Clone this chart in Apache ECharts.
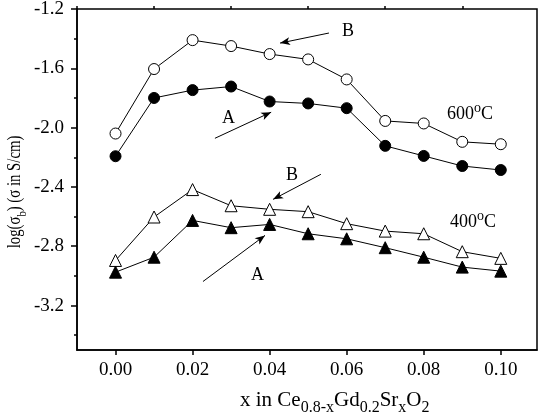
<!DOCTYPE html>
<html>
<head>
<meta charset="utf-8">
<script src="https://cdn.jsdelivr.net/npm/echarts@6/dist/echarts.min.js"></script>
<style>
html,body{margin:0;padding:0;background:#fff;}
#main{width:540px;height:414px;}
</style>
</head>
<body>
<div id="main"></div>
<script>
var xValues = [0, 0.01, 0.02, 0.03, 0.04, 0.05, 0.06, 0.07, 0.08, 0.09, 0.10];
// 600 C
var b600 = [-2.04, -1.605, -1.41, -1.45, -1.504, -1.54, -1.675, -1.955, -1.972, -2.096, -2.112];
var a600 = [-2.193, -1.80, -1.747, -1.723, -1.824, -1.837, -1.869, -2.123, -2.191, -2.259, -2.286];
// 400 C
var b400 = [-2.896, -2.603, -2.418, -2.527, -2.551, -2.567, -2.648, -2.698, -2.716, -2.837, -2.882];
var a400 = [-2.975, -2.874, -2.626, -2.675, -2.653, -2.716, -2.75, -2.81, -2.874, -2.941, -2.968];

var xLabels = [0, 0.02, 0.04, 0.06, 0.08, 0.10];
var xMinor = [-0.01, 0.01, 0.03, 0.05, 0.07, 0.09];
var yLabels = [-1.2, -1.6, -2.0, -2.4, -2.8, -3.2];
var yMinor = [-1.4, -1.8, -2.2, -2.6, -3.0, -3.4];

// arrows [from, to] in data units
var arrows = [
    [[0.0554, -1.362], [0.0427, -1.430]],
    [[0.0258, -2.072], [0.0404, -1.896]],
    [[0.0533, -2.315], [0.0409, -2.484]],
    [[0.0227, -3.038], [0.0388, -2.727]]
];

var font = 'Liberation Serif, Times New Roman, serif';

function pairs(ys) {
    var out = [];
    for (var i = 0; i < xValues.length; i++) {
        out.push([xValues[i], ys[i]]);
    }
    return out;
}

function mkSeries(name, ys, symbol, size, filled) {
    return {
        name: name,
        type: 'line',
        data: pairs(ys),
        symbol: symbol,
        symbolSize: size,
        showAllSymbol: true,
        lineStyle: {color: '#000', width: 1},
        itemStyle: {
            color: filled ? '#000' : '#fff',
            borderColor: '#000',
            borderWidth: 1
        },
        emphasis: {disabled: true},
        z: 3
    };
}

var series = [
    mkSeries('B600', b600, 'circle', 11, false),
    mkSeries('A600', a600, 'circle', 11, true),
    mkSeries('B400', b400, 'triangle', 12, false),
    mkSeries('A400', a400, 'triangle', 12, true)
];

var arrowLines = [];
for (var i = 0; i < arrows.length; i++) {
    arrowLines.push([{coord: arrows[i][0]}, {coord: arrows[i][1]}]);
}
series[0].markLine = {
    silent: true,
    symbol: ['none', 'arrow'],
    symbolSize: [6, 10],
    label: {show: false},
    lineStyle: {color: '#000', width: 1, type: 'solid'},
    data: arrowLines
};

var axisBase = {
    type: 'value',
    splitLine: {show: false},
    axisLine: {show: true, onZero: false, lineStyle: {color: '#000', width: 1.5}}
};

// rich styles: m = normal, s = subscript, p = superscript
var richTxt = {
    m: {fontFamily: font, fontSize: 21, lineHeight: 20, fill: '#000'},
    s: {fontFamily: font, fontSize: 16, lineHeight: 30, verticalAlign: 'bottom', fill: '#000'},
    ym: {fontFamily: font, fontSize: 18, lineHeight: 20, fill: '#000'},
    ys: {fontFamily: font, fontSize: 13, lineHeight: 28, verticalAlign: 'bottom', fill: '#000'},
    m2: {fontFamily: font, fontSize: 18, lineHeight: 26, fill: '#000'},
    p: {fontFamily: font, fontSize: 14, lineHeight: 14, verticalAlign: 'top', fill: '#000'}
};

var option = {
    animation: false,
    backgroundColor: '#fff',
    textStyle: {fontFamily: font},
    grid: {
        left: 77, top: 9, right: 3, bottom: 64,
        outerBoundsMode: 'none',
        containLabel: false,
        show: true, borderColor: '#000', borderWidth: 1.5
    },
    xAxis: [
        Object.assign({}, axisBase, {
            min: -0.01, max: 0.1094,
            axisTick: {show: true, length: 5, customValues: xLabels, lineStyle: {color: '#000', width: 1.5}},
            axisLabel: {
                customValues: xLabels, margin: 11,
                fontSize: 19, color: '#000', fontFamily: font,
                formatter: function (v) { return v.toFixed(2); }
            }
        }),
        Object.assign({}, axisBase, {
            min: -0.01, max: 0.1094,
            axisLine: {show: false, onZero: false},
            axisTick: {show: true, length: 3, customValues: xMinor, lineStyle: {color: '#000', width: 1.5}},
            axisLabel: {show: false}
        })
    ],
    yAxis: [
        Object.assign({}, axisBase, {
            min: -3.5, max: -1.2,
            axisTick: {show: true, length: 6, customValues: yLabels, lineStyle: {color: '#000', width: 1.5}},
            axisLabel: {
                customValues: yLabels, margin: 13,
                fontSize: 19, color: '#000', fontFamily: font,
                formatter: function (v) { return v.toFixed(1); }
            }
        }),
        Object.assign({}, axisBase, {
            min: -3.5, max: -1.2,
            position: 'left',
            axisLine: {show: false, onZero: false},
            axisTick: {show: true, length: 3, customValues: yMinor, lineStyle: {color: '#000', width: 1.5}},
            axisLabel: {show: false}
        })
    ],
    graphic: [
        {type: 'text', left: 342, top: 22, style: {text: 'B', font: '18px ' + font, fill: '#000'}},
        {type: 'text', left: 222, top: 109, style: {text: 'A', font: '18px ' + font, fill: '#000'}},
        {type: 'text', left: 286, top: 166, style: {text: 'B', font: '18px ' + font, fill: '#000'}},
        {type: 'text', left: 251, top: 266, style: {text: 'A', font: '18px ' + font, fill: '#000'}},
        {
            type: 'text', left: 447, top: 101,
            style: {text: '{m2|600}{p|o}{m2|C}', rich: richTxt}
        },
        {
            type: 'text', left: 450, top: 209,
            style: {text: '{m2|400}{p|o}{m2|C}', rich: richTxt}
        },
        {
            type: 'text', left: 240, top: 390,
            style: {
                text: '{m|x in Ce}{s|0.8-x}{m|Gd}{s|0.2}{m|Sr}{s|x}{m|O}{s|2}',
                rich: richTxt
            }
        },
        {
            // y axis title, squeezed along its length like the source
            type: 'text', x: 15, y: 192, rotation: Math.PI / 2, scaleX: 0.82,
            style: {
                text: '{ym|log(σ}{ys|b}{ym|) (σ in S/cm)}',
                align: 'center', verticalAlign: 'middle',
                rich: richTxt
            }
        }
    ],
    series: series
};

var myChart = echarts.init(document.getElementById('main'));
myChart.setOption(option);
</script>
</body>
</html>
